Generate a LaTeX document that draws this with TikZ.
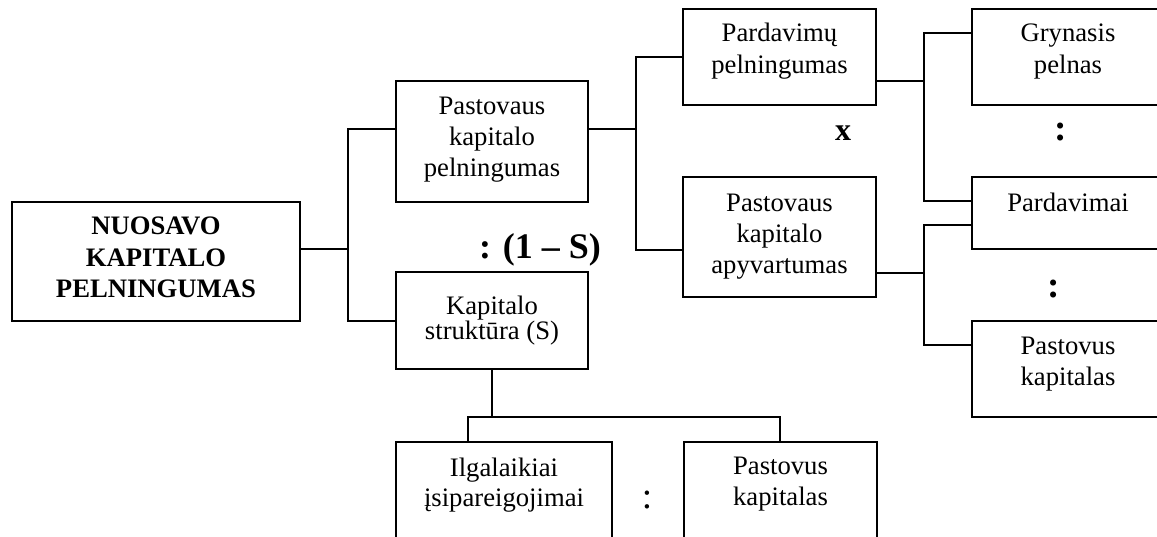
\documentclass[tikz,border=0pt]{standalone}
\usepackage{fontspec}
\setmainfont{Liberation Serif}
\newcommand\bt[2]{\raisebox{#1}[\height][\depth]{\begin{tabular}{@{}c@{}}#2\end{tabular}}}
\begin{document}
\begin{tikzpicture}[x=0.75pt,y=-0.75pt,
  line width=0.9pt,
  font=\fontsize{20}{23.25}\selectfont,
  box/.style={draw, rectangle, inner sep=0pt, outer sep=0pt},
  boxsize/.style 2 args={minimum width=#1*0.75pt, minimum height=#2*0.75pt},
  sign/.style={inner sep=0pt, outer sep=0pt},
  conn/.style={line width=0.9pt}]
\useasboundingbox (0,0) rectangle (1157,536);
\clip (0,0) rectangle (1157,536);

% boxes
\node[box, boxsize={288}{119}] (main) at (156,261.5)
  {\fontsize{20}{23.6}\selectfont\bfseries\bt{1.1pt}{NUOSAVO\\KAPITALO\\PELNINGUMAS}};
\node[box, boxsize={192}{121}] (pkp) at (492,141.5)
  {\bt{1.5pt}{Pastovaus\\kapitalo\\pelningumas}};
\node[box, boxsize={192}{97}] (ks) at (492,320.5)
  {\bt{0pt}{Kapitalo\\[-4.5pt]struktūra (S)}};
\node[box, boxsize={193}{96}] (pp) at (779.5,57)
  {\fontsize{20}{24}\selectfont\bt{4.5pt}{Pardavimų\\pelningumas}};
\node[box, boxsize={193}{120}] (pka) at (779.5,237)
  {\bt{0.75pt}{Pastovaus\\kapitalo\\apyvartumas}};
\node[box, boxsize={192}{96}] (gp) at (1068,57)
  {\fontsize{20}{24}\selectfont\bt{4.5pt}{Grynasis\\pelnas}};
\node[box, boxsize={192}{72}] (pard) at (1068,213)
  {\bt{6pt}{Pardavimai}};
\node[box, boxsize={192}{96}] (pk) at (1068,369)
  {\bt{4.1pt}{Pastovus\\kapitalas}};
\node[box, boxsize={216}{98}] (il) at (504,491)
  {\fontsize{20}{22.5}\selectfont\bt{4.5pt}{Ilgalaikiai\\įsipareigojimai}};
\node[box, boxsize={193}{98}] (pk2) at (780.5,491)
  {\fontsize{20}{23.25}\selectfont\bt{5.6pt}{Pastovus\\kapitalas}};

% operator signs
\node[sign, font=\fontsize{27}{30}\selectfont\bfseries] (div1) at (540,250) {: (1 – S)};
\node[sign, font=\fontsize{24}{28}\selectfont\bfseries] (mul) at (843,133) {x};
\node[sign, font=\fontsize{28}{30}\selectfont\bfseries] (div2) at (1061,132) {:};
\node[sign, font=\fontsize{28}{30}\selectfont\bfseries] (div3) at (1054,289) {:};
\node[sign, font=\fontsize{28}{30}\selectfont] (div4) at (647,500) {:};

% junction coordinates
\coordinate (j0) at (348,249);
\coordinate (j1a) at (348,129);
\coordinate (j1b) at (348,321);
\coordinate (j2m) at (636,129);
\coordinate (j2a) at (636,57);
\coordinate (j2b) at (636,250);
\coordinate (j3m) at (924,81);
\coordinate (j3a) at (924,33);
\coordinate (j3b) at (924,201);
\coordinate (j4m) at (924,273);
\coordinate (j4a) at (924,225);
\coordinate (j4b) at (924,345);
\coordinate (j5m) at (492,417);
\coordinate (j5a) at (468,417);
\coordinate (j5b) at (780,417);

% connectors
\draw[conn] (main.east |- j0) -- (j0);
\draw[conn] (pkp.west |- j1a) -- (j1a) -- (j1b) -- (ks.west |- j1b);
\draw[conn] (pkp.east |- j2m) -- (j2m);
\draw[conn] (pp.west |- j2a) -- (j2a) -- (j2b) -- (pka.west |- j2b);
\draw[conn] (pp.east |- j3m) -- (j3m);
\draw[conn] (gp.west |- j3a) -- (j3a) -- (j3b) -- (pard.west |- j3b);
\draw[conn] (pka.east |- j4m) -- (j4m);
\draw[conn] (pard.west |- j4a) -- (j4a) -- (j4b) -- (pk.west |- j4b);
\draw[conn] (ks.south) -- (j5m);
\draw[conn] (il.north -| j5a) -- (j5a) -- (j5b) -- (pk2.north -| j5b);
\end{tikzpicture}
\end{document}
